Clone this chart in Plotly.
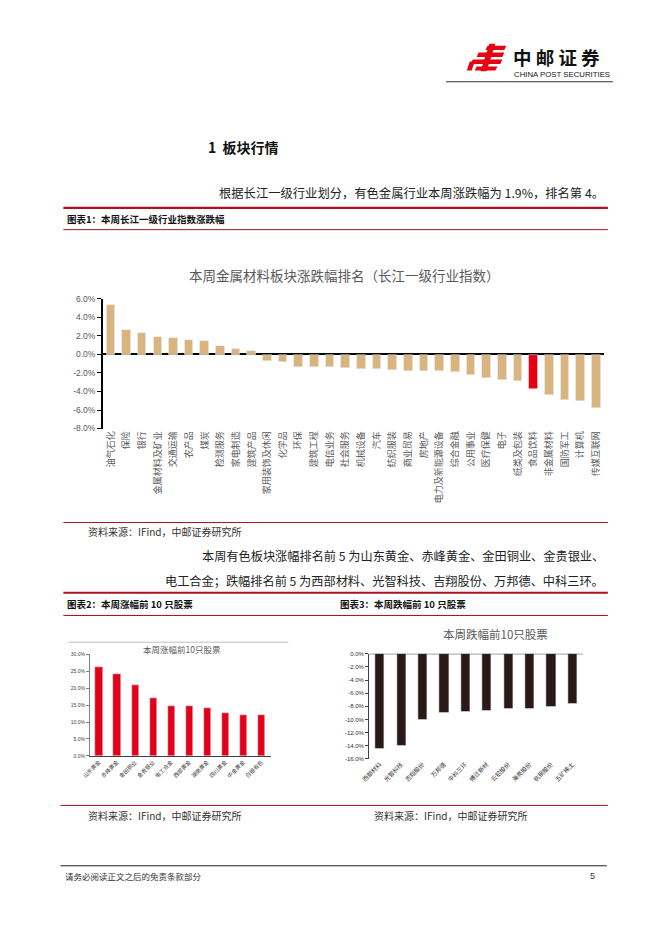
import plotly.graph_objects as go

W, H = 662, 936
CJK = "Noto Sans CJK SC"
OFF = 8  # default page body margin

# ---------------- data ----------------
industries = ["油气石化", "保险", "银行", "金属材料及矿业", "交通运输", "农产品", "煤炭",
              "检测服务", "家电制造", "建筑产品", "家用装饰及休闲", "化学品", "环保",
              "建筑工程", "电信业务", "社会服务", "机械设备", "汽车", "纺织服装", "商业贸易",
              "房地产", "电力及新能源设备", "综合金融", "公用事业", "医疗保健", "电子",
              "纸类及包装", "食品饮料", "非金属材料", "国防军工", "计算机", "传媒互联网"]
industry_chg = [5.4, 2.6, 2.3, 1.9, 1.75, 1.57, 1.46, 0.93, 0.6, 0.39, -0.68, -0.79, -1.32,
                -1.32, -1.39, -1.5, -1.54, -1.55, -1.68, -1.75, -1.82, -1.83, -1.89, -2.2,
                -2.5, -2.75, -2.86, -3.71, -4.36, -4.86, -5.07, -5.79]
highlight_industry = "食品饮料"

gainers = ["山东黄金", "赤峰黄金", "金田铜业", "金贵银业", "电工合金",
           "西部黄金", "湖南黄金", "四川黄金", "中金黄金", "白银有色"]
gainer_chg = [26.3, 24.2, 20.9, 17.1, 14.7, 14.6, 14.1, 12.5, 12.0, 12.0]

losers = ["西部材料", "光智科技", "吉翔股份", "万邦德", "中科三环",
          "博迁新材", "云铝股份", "海亮股份", "杭钢股份", "五矿稀土"]
loser_chg = [-14.45, -14.05, -10.0, -9.0, -8.8, -8.7, -8.4, -8.3, -8.1, -7.55]

ticks1 = [-8, -6, -4, -2, 0, 2, 4, 6]
ticks2 = [0, 5, 10, 15, 20, 25, 30]
ticks3 = [-16, -14, -12, -10, -8, -6, -4, -2, 0]


def fx(x):
    return (x - OFF) / W


def fy(y):
    return 1 - (y - OFF) / H


TAN = "#D9B47E"
RED = "#E60012"
DARK = "#2A1A17"
LINE_RED = "#B0121D"

fig = go.Figure()

# ---------- chart 1 ----------
fig.add_trace(go.Bar(
    x=industries, y=industry_chg,
    marker_color=[RED if n == highlight_industry else TAN for n in industries],
    width=0.55, xaxis="x", yaxis="y", showlegend=False))

# ---------- chart 2 ----------
fig.add_trace(go.Bar(
    x=gainers, y=gainer_chg, marker_color="#E2001A",
    width=0.4, xaxis="x2", yaxis="y2", showlegend=False))

# ---------- chart 3 ----------
fig.add_trace(go.Bar(
    x=losers, y=loser_chg, marker_color=DARK,
    width=0.43, xaxis="x3", yaxis="y3", showlegend=False))

fig.update_layout(
    width=W, height=H, margin=dict(l=0, r=0, t=0, b=0),
    paper_bgcolor="white", plot_bgcolor="white",
    font=dict(family=CJK, color="#595959"),
    bargap=0,
    xaxis=dict(domain=[fx(95), fx(603)], anchor="y", type="category",
               range=[-0.5, len(industries) - 0.5],
               tickangle=-90, tickfont=dict(size=9, color="#595959", family=CJK),
               showline=False, ticks="", showgrid=False),
    yaxis=dict(domain=[fy(428), fy(297)], anchor="x", range=[-8, 6],
               tickvals=ticks1, ticktext=[f"{v:.1f}%" for v in ticks1],
               tickfont=dict(size=8.5, color="#595959", family="Liberation Sans"),
               showline=True, linecolor="black", linewidth=1.5,
               ticks="outside", ticklen=4, tickcolor="black",
               showgrid=False, zeroline=True, zerolinecolor="black", zerolinewidth=1.5),
    xaxis2=dict(domain=[fx(82), fx(265)], anchor="y2", type="category",
                range=[-0.5, len(gainers) - 0.5],
                tickangle=-45, tickfont=dict(size=5.5, color="#404040", family=CJK),
                showline=True, linecolor="#404040", linewidth=1,
                ticks="", showgrid=False),
    yaxis2=dict(domain=[fy(759), fy(656)], anchor="x2", range=[0, 30],
                tickvals=ticks2, ticktext=[f"{v:.1f}%" for v in ticks2],
                tickfont=dict(size=5, color="#404040", family="Liberation Sans"),
                showline=True, linecolor="#808080", linewidth=1,
                ticks="outside", ticklen=3, tickcolor="#808080",
                showgrid=False, zeroline=False),
    xaxis3=dict(domain=[fx(365), fx(582)], anchor="y3", type="category",
                range=[-0.5, len(losers) - 0.5],
                tickangle=-45, tickfont=dict(size=6, color="#303030", family=CJK),
                showline=False, ticks="", showgrid=False),
    yaxis3=dict(domain=[fy(762), fy(655.7)], anchor="x3", range=[-16, 0],
                tickvals=ticks3, ticktext=[f"{v:.1f}%" for v in ticks3],
                tickfont=dict(size=6, color="#303030", family="Liberation Sans"),
                showline=True, linecolor="#404040", linewidth=1,
                ticks="outside", ticklen=3, tickcolor="#404040",
                showgrid=False, zeroline=False),
)

shapes = []


def hline(y, x0, x1, color, width):
    shapes.append(dict(type="line", xref="paper", yref="paper",
                       x0=fx(x0), x1=fx(x1), y0=fy(y), y1=fy(y),
                       line=dict(color=color, width=width)))


# header line
hline(77.5, 443, 612, "#333333", 1)
# section lines
hline(205, 55, 607, LINE_RED, 2.2)
hline(227, 55, 607, LINE_RED, 1)
hline(523, 55, 607, LINE_RED, 1)
hline(594, 55, 607, LINE_RED, 2.2)
hline(617, 55, 607, LINE_RED, 1)
hline(809, 52, 607, LINE_RED, 1)
hline(870, 52, 606, "#222222", 1)
# chart 2 frame top line
hline(644, 60, 283, "#BFBFBF", 1)
# chart 3 zero line (top)
shapes.append(dict(type="line", xref="x3 domain", yref="y3", x0=0, x1=1, y0=0, y1=0,
                   line=dict(color="#303030", width=1)))


# logo icon (stylised)
def poly(pts, color):
    path = "M " + " L ".join(f"{fx(x)},{fy(y)}" for x, y in pts) + " Z"
    shapes.append(dict(type="path", xref="paper", yref="paper", path=path,
                       fillcolor=color, line=dict(width=0)))


poly([(485, 41), (504, 41), (502, 45.5), (483, 45.5)], RED)
poly([(476, 48), (502, 48), (500, 52.5), (474, 52.5)], RED)
poly([(470, 55), (500, 55), (498, 59.5), (468, 59.5)], RED)
poly([(474, 62), (495, 62), (493, 66), (472, 66)], RED)
poly([(487, 39), (493, 39), (484, 67), (478, 67)], RED)
poly([(467, 57), (472, 57), (469, 66), (464, 66)], RED)

fig.update_layout(shapes=shapes)

anns = []


def txt(x, y, s, size, color="#000000", xanchor="left", family=CJK, bold=False):
    anns.append(dict(x=fx(x), y=fy(y), xref="paper", yref="paper",
                     text=f"<b>{s}</b>" if bold else s, showarrow=False,
                     xanchor=xanchor, yanchor="middle",
                     font=dict(size=size, color=color, family=family)))


txt(509, 52, "中 邮 证 券", 18.5, "#111111", bold=True)
txt(510, 70.5, "CHINA POST SECURITIES", 7.8, "#111111", family="Liberation Sans")

txt(200, 143, "1  板块行情", 14, "#111111", bold=True)
txt(605, 190, "根据长江一级行业划分，有色金属行业本周涨跌幅为 1.9%，排名第 4。", 12.3, "#222222", xanchor="right")
txt(57, 216, "图表1：本周长江一级行业指数涨跌幅", 9.5, "#111111", bold=True)

txt(340, 273, "本周金属材料板块涨跌幅排名（长江一级行业指数）", 13.5, "#595959", xanchor="center")

txt(78, 532, "资料来源：IFind，中邮证券研究所", 10, "#333333")
txt(605, 557, "本周有色板块涨幅排名前 5 为山东黄金、赤峰黄金、金田铜业、金贵银业、", 12.2, "#222222", xanchor="right")
txt(605, 582, "电工合金；跌幅排名前 5 为西部材料、光智科技、吉翔股份、万邦德、中科三环。", 12.2, "#222222", xanchor="right")
txt(57, 605, "图表2：本周涨幅前 10 只股票", 9.5, "#111111", bold=True)
txt(333, 605, "图表3：本周跌幅前 10 只股票", 9.5, "#111111", bold=True)

txt(175, 651, "本周涨幅前10只股票", 8.5, "#595959", xanchor="center")
txt(493, 636, "本周跌幅前10只股票", 11.5, "#595959", xanchor="center")

txt(78, 819, "资料来源：IFind，中邮证券研究所", 10, "#333333")
txt(368, 819, "资料来源：IFind，中邮证券研究所", 10, "#333333")

txt(55, 880, "请务必阅读正文之后的免责条款部分", 8.5, "#333333")
txt(596, 880, "5", 9, "#333333", xanchor="right", family="Liberation Sans")

fig.update_layout(annotations=anns)

fig.write_html("out.html")
